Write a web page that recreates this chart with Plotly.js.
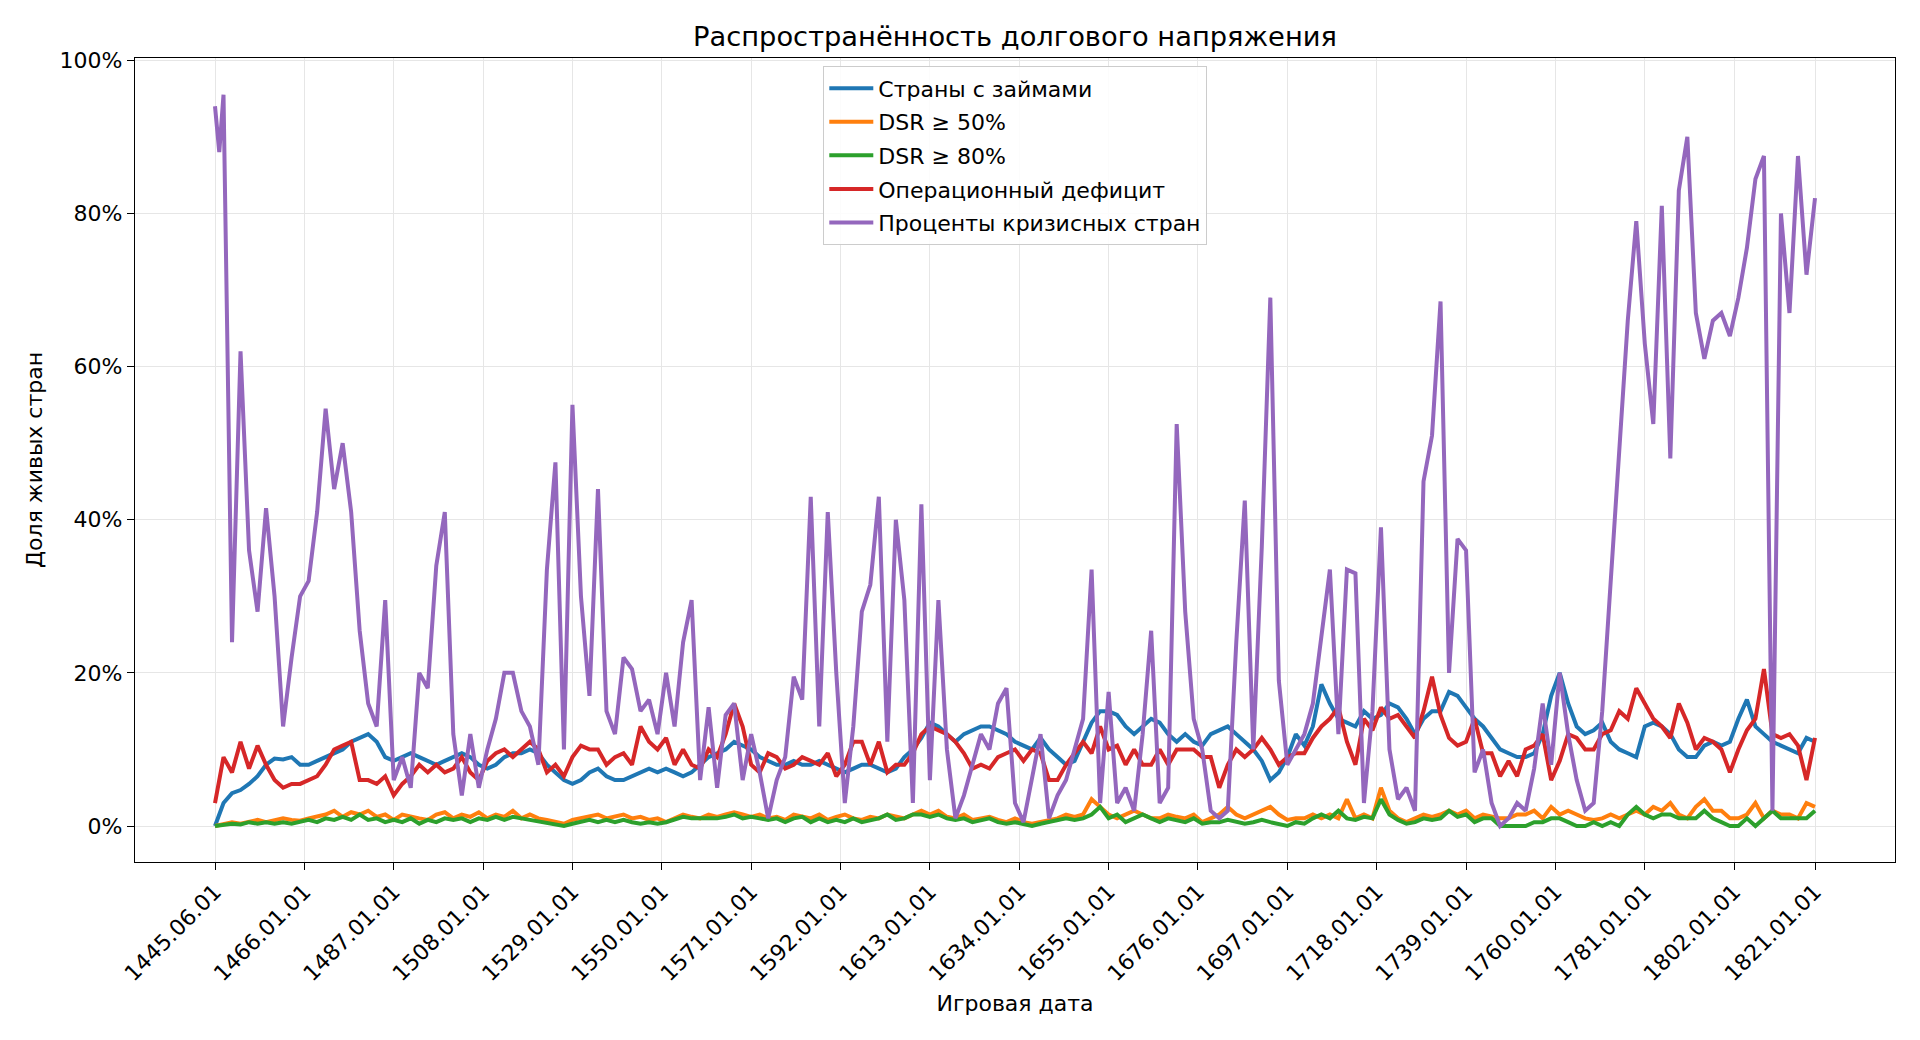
<!DOCTYPE html>
<html>
<head>
<meta charset="utf-8">
<script src="https://cdn.plot.ly/plotly-3.0.1.min.js"></script>
<style>
  html, body { margin: 0; padding: 0; background: #fff; }
  #chart { width: 1920px; height: 1040px; }
</style>
</head>
<body>
<div id="chart"></div>
<script>
/* Распространённость долгового напряжения — values in %, sampled every 2nd game year */

const STEP_YEARS = 2;

const TICK_INDEX  = [0, 21, 42, 63, 84, 105, 126, 147, 168, 189, 210, 231, 252, 273, 294, 315, 336, 357, 376];
const TICK_LABELS = ['1445.06.01', '1466.01.01', '1487.01.01', '1508.01.01', '1529.01.01', '1550.01.01',
                     '1571.01.01', '1592.01.01', '1613.01.01', '1634.01.01', '1655.01.01', '1676.01.01',
                     '1697.01.01', '1718.01.01', '1739.01.01', '1760.01.01', '1781.01.01', '1802.01.01',
                     '1821.01.01'];

const LOANS = [
    0, 3, 4.3, 4.7, 5.5, 6.5, 8, 8.8, 8.7, 9, 8, 8, 8.5, 9, 9.5, 10, 11, 11.5, 12, 11,
    9, 8.5, 9, 9.5, 9, 8.5, 8, 8.5, 9, 9.5, 9, 8, 7.5, 8, 9, 9.5, 9.5, 10, 9.5, 8,
    7, 6, 5.5, 6, 7, 7.5, 6.5, 6, 6, 6.5, 7, 7.5, 7, 7.5, 7, 6.5, 7, 8, 9, 9.5,
    10, 11, 10.5, 10, 9, 8.5, 8, 8, 8.5, 8, 8, 8.5, 8, 7.5, 7, 7.5, 8, 8, 7.5, 7,
    7.5, 9, 10, 11.5, 13.5, 13, 12, 11, 12, 12.5, 13, 13, 12.5, 12, 11, 10.5, 10, 11.5, 10, 9,
    8, 8.5, 11, 13.5, 15, 15, 14.5, 13, 12, 13, 14, 13.5, 12, 11, 12, 11, 10.5, 12, 12.5, 13,
    12, 11, 10, 8.5, 6, 7, 9, 12, 10.5, 13, 18.5, 16, 14, 13.5, 13, 15, 14, 14.5, 16, 15.5,
    14, 12, 14, 15, 15, 17.5, 17, 15.5, 14, 13, 11.5, 10, 9.5, 9, 9, 9.5, 12, 17, 20, 16,
    13, 12, 12.5, 13.5, 11, 10, 9.5, 9, 13, 13.5, 13, 12, 10, 9, 9, 10.5, 11, 10.5, 11, 14,
    16.5, 13, 12, 11, 10.5, 10, 9.5, 11.5, 11
];

const DSR50 = [
    0, 0.3, 0.5, 0.3, 0.6, 0.8, 0.5, 0.7, 1, 0.8, 0.7, 1, 1.2, 1.5, 2, 1.2, 1.8, 1.5, 2, 1.2,
    1.5, 0.8, 1.5, 1.2, 1, 0.8, 1.5, 1.8, 1, 1.5, 1.2, 1.8, 1, 1.5, 1.2, 2, 1, 1.5, 1, 0.8,
    0.5, 0.3, 0.8, 1, 1.2, 1.5, 1, 1.2, 1.5, 1, 1.2, 0.8, 1, 0.5, 1, 1.5, 1.2, 1, 1.5, 1.2,
    1.5, 1.8, 1.5, 1.2, 1.5, 1, 1.2, 0.8, 1.5, 1.2, 1, 1.5, 0.8, 1.2, 1.5, 1, 0.8, 1.2, 1, 1.5,
    1.2, 1, 1.5, 2, 1.5, 2, 1.2, 1, 1.5, 0.8, 1, 1.2, 0.8, 0.5, 1, 0.5, 0.3, 0.5, 0.8, 1,
    1.5, 1.2, 1.5, 3.5, 2.5, 1.5, 1, 1.5, 2, 1.5, 1, 1, 1.5, 1.2, 1, 1.5, 0.5, 1, 1.5, 2.5,
    1.5, 1, 1.5, 2, 2.5, 1.5, 0.8, 1, 1, 1.5, 1, 1.5, 1, 3.5, 1, 1.5, 1, 5, 2, 1,
    0.5, 1, 1.5, 1.2, 1.5, 2, 1.5, 2, 1, 1.5, 1.2, 1, 1, 1.5, 1.5, 2, 1, 2.5, 1.5, 2,
    1.5, 1, 0.8, 1, 1.5, 1, 1.5, 2, 1.5, 2.5, 2, 3, 1.5, 1, 2.5, 3.5, 2, 2, 1, 1,
    1.5, 3, 1, 2, 1.5, 1.5, 1, 3, 2.5
];

const DSR80 = [
    0, 0.2, 0.3, 0.2, 0.5, 0.3, 0.5, 0.3, 0.5, 0.3, 0.5, 0.8, 0.5, 1, 0.8, 1.2, 0.8, 1.5, 0.8, 1,
    0.5, 0.8, 0.5, 1, 0.3, 0.8, 0.5, 1, 0.8, 1, 0.5, 1, 0.8, 1.2, 0.8, 1.2, 1, 0.8, 0.5, 0.3,
    0.2, 0, 0.3, 0.5, 0.8, 0.5, 0.8, 0.5, 0.8, 0.5, 0.3, 0.5, 0.3, 0.5, 0.8, 1.2, 1, 1, 1, 1,
    1.2, 1.5, 1, 1.2, 1, 0.8, 1, 0.5, 1, 1.2, 0.5, 1, 0.5, 0.8, 0.5, 1, 0.5, 0.8, 1, 1.5,
    0.8, 1, 1.5, 1.5, 1.2, 1.5, 1, 0.8, 1, 0.5, 0.8, 1, 0.5, 0.3, 0.5, 0.2, 0, 0.3, 0.5, 0.8,
    1, 0.8, 1, 1.5, 2.5, 1, 1.5, 0.5, 1, 1.5, 1, 0.5, 1, 0.8, 0.5, 1, 0.3, 0.5, 0.5, 0.8,
    0.5, 0.3, 0.5, 0.8, 0.5, 0.2, 0, 0.5, 0.3, 1, 1.5, 1, 2, 1, 0.8, 1.2, 1, 3.5, 1.5, 0.8,
    0.3, 0.5, 1, 0.8, 1, 2, 1.2, 1.5, 0.5, 1, 1, 0, 0, 0, 0, 0.5, 0.5, 1, 1, 0.5,
    0, 0, 0.5, 0, 0.5, 0, 1.5, 2.5, 1.5, 1, 1.5, 1.5, 1, 1, 1, 2, 1, 0.5, 0, 0,
    1, 0, 1, 2, 1, 1, 1, 1, 2
];

const DEFICIT = [
    3, 9, 7, 11, 7.5, 10.5, 8, 6, 5, 5.5, 5.5, 6, 6.5, 8, 10, 10.5, 11, 6, 6, 5.5,
    6.5, 4, 5.5, 6.5, 8, 7, 8, 7, 7.5, 9, 7, 6, 8.5, 9.5, 10, 9, 10, 11, 10, 7,
    8, 6.5, 9, 10.5, 10, 10, 8, 9, 9.5, 8, 13, 11, 10, 11.5, 8, 10, 8, 7.5, 10, 9,
    12, 16, 13, 8, 7, 9.5, 9, 7.5, 8, 9, 8.5, 8, 9.5, 6.5, 8, 11, 11, 8, 11, 7,
    8, 8, 9.5, 12, 13, 12.5, 12, 11, 9.5, 7.5, 8, 7.5, 9, 9.5, 10, 8.5, 10, 9.5, 6, 6,
    8, 9.5, 11, 9.5, 13, 10, 10.5, 8, 10, 8, 8, 10, 8, 10, 10, 10, 9, 9, 5, 8,
    10, 9, 10, 11.5, 10, 8, 9, 9.5, 9.5, 11.5, 13, 14, 15.5, 11, 8, 14, 12.5, 15.5, 14, 14.5,
    13, 11.5, 15, 19.5, 14.5, 11.5, 10.5, 11, 14, 9.5, 9.5, 6.5, 8.5, 6.5, 10, 10.5, 12, 6, 8.5, 12,
    11.5, 10, 10, 12, 12.5, 15, 14, 18, 16, 14, 13, 11.5, 16, 13.5, 10, 11.5, 11, 10, 7, 10,
    12.5, 14, 20.5, 12, 11.5, 12, 10.5, 6, 11.5
];

const CRISIS = [
    94, 88, 95.5, 24, 62, 36, 28, 41.5, 30, 13, 22, 30, 32, 41, 54.5, 44, 50, 41, 25.5, 16, 13,
    29.5, 6, 9, 5, 20, 18, 34, 41, 12, 4, 12, 5, 10, 14, 20, 20, 15, 13, 8, 33.5,
    47.5, 10, 55, 30, 17, 44, 15, 12, 22, 20.5, 15, 16.5, 12, 20, 13, 24, 29.5, 6, 15.5, 5,
    14.5, 16, 6, 12, 7, 1, 6, 9, 19.5, 16.5, 43, 13, 41, 20, 3, 13, 28, 31.5, 43, 11,
    40, 29.5, 3, 42, 6, 29.5, 10, 1, 4, 8, 12, 10, 16, 18, 3, 0.5, 6, 12, 1, 4,
    6, 10, 14, 33.5, 3, 17.5, 3, 5, 2, 12, 25.5, 3, 5, 52.5, 28, 14, 10, 2, 1, 2,
    24, 42.5, 10, 36.5, 69, 19, 8, 10, 12, 16, 25, 33.5, 12, 33.5, 33, 3, 15, 39, 10, 3.5,
    5, 2, 45, 51, 68.5, 20, 37.5, 36, 7, 10, 3, 0, 1, 3, 2, 7.5, 16, 8, 20, 12,
    6, 2, 3, 15, 32, 50, 66, 79, 63, 52.5, 81, 48, 83, 90, 67, 61, 66, 67, 64, 69,
    75.5, 84.5, 87.5, 2, 80, 67, 87.5, 72, 82
];

/* first crisis samples are yearly (1445–1447), the rest every 2 years */
const CRISIS_X_HEAD = [0, 1, 2];

const COLORS = {
    loans:   '#1f77b4',
    dsr50:   '#ff7f0e',
    dsr80:   '#2ca02c',
    deficit: '#d62728',
    crisis:  '#9467bd'
};

const FONT = 'DejaVu Sans, Verdana, sans-serif';

function makeTrace(values, name, color, xs) {
    return {
        x: xs || values.map((_, i) => i * STEP_YEARS),
        y: values,
        name: name,
        legendgroup: name,
        type: 'scatter',
        mode: 'lines',
        line: { color: color, width: 4 },
        hovertemplate: '%{y:.1f}%<extra>' + name + '</extra>'
    };
}

/* crisis x: yearly head, then continue on the 2-year grid */
const crisisX = CRISIS.map((_, i) =>
    i < CRISIS_X_HEAD.length ? CRISIS_X_HEAD[i] : (i - 1) * STEP_YEARS);

const traces = [
    makeTrace(LOANS,   'Страны с займами',         COLORS.loans),
    makeTrace(DSR50,   'DSR ≥ 50%',                COLORS.dsr50),
    makeTrace(DSR80,   'DSR ≥ 80%',                COLORS.dsr80),
    makeTrace(DEFICIT, 'Операционный дефицит',     COLORS.deficit),
    makeTrace(CRISIS,  'Проценты кризисных стран', COLORS.crisis, crisisX)
];

const AXIS_BASE = {
    showline: true,
    mirror: true,
    linecolor: '#000',
    linewidth: 1.3,
    ticks: 'outside',
    ticklen: 7,
    tickwidth: 1.3,
    tickcolor: '#000',
    gridcolor: '#e6e6e6',
    gridwidth: 1.2,
    zeroline: false,
    tickfont: { size: 22, color: '#000', family: FONT }
};

const layout = {
    width: 1920,
    height: 1040,
    paper_bgcolor: '#fff',
    plot_bgcolor: '#fff',
    font: { family: FONT, color: '#000' },
    margin: { l: 135, r: 25, t: 58, b: 178 },
    showlegend: true,
    title: {
        text: 'Распространённость долгового напряжения',
        x: 0.5, xref: 'paper', xanchor: 'center',
        y: 1 - 36 / 1040, yref: 'container', yanchor: 'middle',
        font: { size: 27.3, color: '#000', family: FONT }
    },
    xaxis: {
        ...AXIS_BASE,
        range: [-18.8, 394.8],
        tickmode: 'array',
        tickvals: TICK_INDEX,
        ticktext: TICK_LABELS,
        tickangle: -45,
        automargin: false,
        title: {
            text: 'Игровая дата',
            font: { size: 22, color: '#000', family: FONT },
            standoff: 10
        }
    },
    yaxis: {
        ...AXIS_BASE,
        range: [-4.7, 100.3],
        tickmode: 'linear',
        tick0: 0,
        dtick: 20,
        ticksuffix: '%',
        automargin: false,
        title: {
            text: 'Доля живых стран',
            font: { size: 22, color: '#000', family: FONT },
            standoff: 10
        }
    },
    legend: {
        x: 0.5, xanchor: 'center',
        y: 0.99, yanchor: 'top',
        bgcolor: 'rgba(255,255,255,0.85)',
        bordercolor: '#cccccc',
        borderwidth: 1.3,
        tracegroupgap: 2,
        itemwidth: 44,
        font: { size: 22, color: '#000', family: FONT }
    }
};

Plotly.newPlot('chart', traces, layout, { displayModeBar: false, responsive: false });
</script>
</body>
</html>
